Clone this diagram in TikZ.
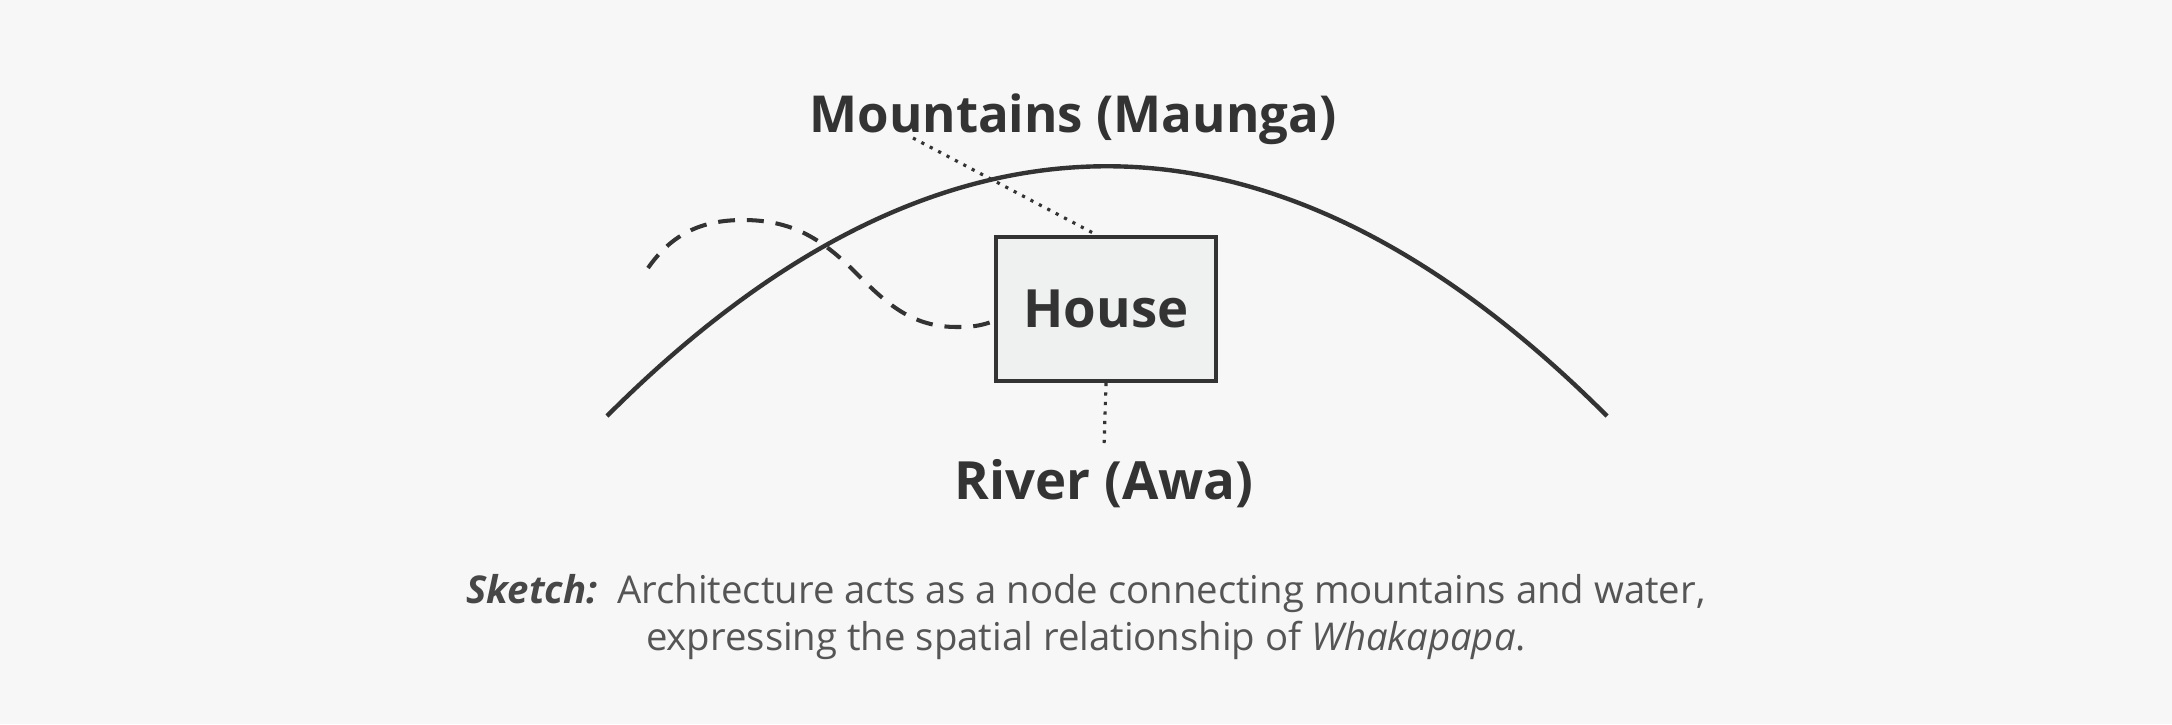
\documentclass[tikz,border=0pt]{standalone}
\usepackage{fontspec}
\setmainfont{Open Sans}
\usetikzlibrary{positioning}
\definecolor{ink}{HTML}{333333}
\definecolor{capgray}{HTML}{555555}
\definecolor{boxfill}{HTML}{EFF1F0}
\definecolor{paper}{HTML}{F7F7F7}
\tikzset{
	bigtext/.style={font=\fontsize{15}{18}\selectfont\bfseries, text=ink},
	housebox/.style={draw=ink, line width=1.1pt, fill=boxfill, minimum width=2.2cm, minimum height=1.44cm, bigtext},
	ridge/.style={draw=ink, line width=1.25pt},
	riverpath/.style={draw=ink, line width=1.15pt, dash pattern=on 4.8pt off 3.4pt},
	tether/.style={draw=ink, line width=0.9pt, dash pattern=on 0.9pt off 1.8pt}
}
\begin{document}
\begin{tikzpicture}[node distance=2.3cm]
			\fill[paper] (0,0) rectangle (21.72,-7.24);
			\node(House)		[housebox] at (11.06,-3.09)		{House};
			\node(Mountains)	[bigtext, font=\fontsize{14.5}{18}\selectfont\bfseries, anchor=base] at (10.73,-1.32)	{Mountains (Maunga)};
			\node(River)		[bigtext, anchor=base] at (11.04,-4.99)	{River (Awa)};
			\node(Caption)		[align=center, text=capgray, font=\fontsize{10.9}{13.2}\selectfont] at (10.86,-6.17)
				{{\color{ink!90}\bfseries\itshape Sketch:}\ \ Architecture acts as a node connecting mountains and water,\\
				expressing the spatial relationship of \textit{Whakapapa}.};
			\draw[ridge] (6.07,-4.16) .. controls (9.40,-0.83) and (12.74,-0.83) .. (16.07,-4.16);
			\draw[riverpath] (6.48,-2.68) to[out=55,in=180] (7.43,-2.20) to[out=0,in=135] (8.55,-2.72)
				to[out=-45,in=180] (9.57,-3.27) to[out=0,in=200] ([yshift=-0.12cm]House.west);
			\draw[tether] ([xshift=-1.6cm,yshift=-0.06cm]Mountains.base) -- ([xshift=-0.09cm]House.north);
			\draw[tether] (House.south) -- (River.north);
		\end{tikzpicture}
\end{document}
